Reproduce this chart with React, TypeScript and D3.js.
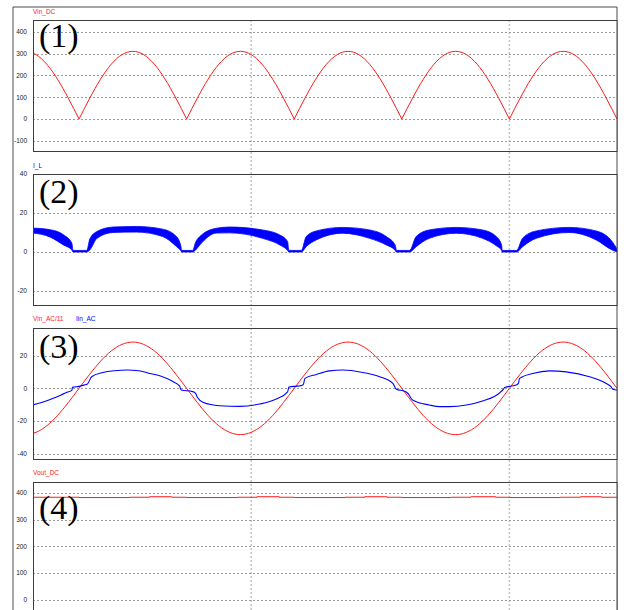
import React from 'react';
import * as d3 from 'd3';

// x axis = mains phase in degrees (60 Hz), 0 = first zero of Vin
const phaseSin = [
  -90, -72, -54, -36, -18, 0, 18, 36, 54, 72, 90, 108, 126, 144, 162, 180, 198, 216, 234, 252,
  270, 288, 306, 324, 342, 360, 378, 396, 414, 432, 450, 468, 486, 504, 522, 540, 558, 576, 594,
  612, 630, 648, 666, 684, 702, 720, 738, 756, 774, 792, 810, 828, 846, 864, 882, 900,
];
const vinDC = [
  311, 296, 252, 183, 96,
  0, 96, 183, 252, 296, 311, 296, 252, 183, 96,
  0, 96, 183, 252, 296, 311, 296, 252, 183, 96,
  0, 96, 183, 252, 296, 311, 296, 252, 183, 96,
  0, 96, 183, 252, 296, 311, 296, 252, 183, 96,
  0, 96, 183, 252, 296, 311, 296, 252, 183, 96,
  0,
];
const vinAC11 = [
  -28.3, -26.9, -22.9, -16.6, -8.7,
  0, 8.7, 16.6, 22.9, 26.9, 28.3, 26.9, 22.9, 16.6, 8.7,
  0, -8.7, -16.6, -22.9, -26.9, -28.3, -26.9, -22.9, -16.6, -8.7,
  0, 8.7, 16.6, 22.9, 26.9, 28.3, 26.9, 22.9, 16.6, 8.7,
  0, -8.7, -16.6, -22.9, -26.9, -28.3, -26.9, -22.9, -16.6, -8.7,
  0, 8.7, 16.6, 22.9, 26.9, 28.3, 26.9, 22.9, 16.6, 8.7,
  0,
];

const iinPhase = [
  -80, -60, -43, -30, -20, -12, -11, 0, 12, 14, 21, 40, 60, 80, 100, 118, 135, 157, 168, 171,
  190, 195, 198, 208, 235, 269, 302, 330, 349, 351, 370, 375, 378, 397, 419, 441, 475, 503, 525,
  531, 545, 550, 558, 586, 603, 620, 648, 675, 703, 710, 712, 731, 735, 737, 759, 787, 815, 854,
  882, 890, 893, 900,
];
const iinAC = [
  -10.4, -8.4, -6.1, -4.0, -2.4, -1.2, 0.6, 1.2, 2.4, 2.6, 7.1, 9.7, 10.8, 11.2, 10.8, 9.1, 7.7,
  4.2, 1.5, -1.0, -2.0, -3.0, -5.5, -8.7, -10.6, -11.0, -9.6, -6.5, -2.2, 0.8, 1.6, 2.2, 6.1, 8.5,
  10.7, 11.2, 9.7, 7.1, 3.0, -0.5, -1.8, -3.0, -7.1, -10.2, -11.2, -11.2, -10.2, -7.7, -3.0, -0.5,
  0.5, 2.0, 3.0, 6.1, 9.1, 10.7, 10.1, 7.1, 3.0, 1.0, -0.5, -1.0,
];

// inductor current: ripple band, upper and lower envelope
const ilPhase = [
  -80, -48, -26, -12, -10, 13, 18, 30, 57, 96, 140, 163, 170, 172, 190, 195, 202, 230, 252, 307,
  336, 349, 351, 372, 380, 397, 441, 486, 514, 529, 531, 553, 564, 586, 631, 675, 698, 707, 708,
  732, 742, 765, 820, 865, 892, 900,
];
const ilUpper = [
  12.3, 11.4, 8.8, 4.5, 0.8, 0.8, 6.6, 10.5, 12.8, 13.1, 11.7, 7.9, 3.5, 0.8, 0.8, 5.0, 7.9, 12.2,
  12.8, 11.3, 8.7, 5.3, 0.8, 0.8, 7.9, 10.8, 12.6, 11.3, 7.9, 3.5, 0.8, 0.8, 7.9, 11.3, 12.6, 11.3,
  7.9, 3.5, 0.8, 0.8, 7.0, 10.8, 12.6, 10.8, 5.3, 1.5,
];
const ilLower = [
  9.8, 7.6, 3.6, 1.0, 0, 0, 1.0, 7.0, 10.0, 10.2, 7.9, 2.8, 0.8, 0, 0, 1.0, 3.6, 9.7, 9.8, 7.0,
  3.6, 0.8, 0, 0, 2.7, 6.2, 9.6, 7.0, 3.6, 0.8, 0, 0, 2.7, 7.0, 9.6, 7.0, 3.2, 0.8, 0, 0, 2.7, 7.0,
  10.0, 6.2, 1.0, 0,
];

const voutPhase = [
  -80, 0, 85, 118, 155, 180, 265, 298, 335, 360, 445, 478, 515, 540, 623, 656, 697, 720, 805, 839,
  874, 900,
];
const voutDC = [
  383, 382, 383, 385, 383, 382, 383, 385, 383, 382, 383, 385, 383, 382, 383, 385, 383, 382, 383,
  385, 383, 383,
];

const vinTicks = [400, 300, 200, 100, 0, -100];
const ilTicks = [40, 20, 0, -20];
const acTicks = [20, 0, -20, -40];
const voutTicks = [400, 300, 200, 100, 0];
const gridPhase = [288, 720];

const RED = '#ff1a1a';
const BLUE = '#0000ff';
const tickFont = '"Liberation Sans", Arial, sans-serif';

const x = d3.scaleLinear().domain([-77, 900]).range([33, 617]);

const panels = [
  { id: 'p1', top: 20, bottom: 151, y: d3.scaleLinear().domain([-147, 455]).range([151, 20]), ticks: vinTicks, tag: '(1)', tagY: 47 },
  { id: 'p2', top: 174, bottom: 305, y: d3.scaleLinear().domain([-27.2, 40]).range([305, 174]), ticks: ilTicks, tag: '(2)', tagY: 203 },
  { id: 'p3', top: 328, bottom: 459, y: d3.scaleLinear().domain([-43.2, 36.9]).range([459, 328]), ticks: acTicks, tag: '(3)', tagY: 358 },
  { id: 'p4', top: 482, bottom: 640, y: d3.scaleLinear().domain([-149.1, 439.9]).range([640, 482]), ticks: voutTicks, tag: '(4)', tagY: 519 },
];

const zip = (xs: number[], ys: number[]) => xs.map((p, i) => [p, ys[i]] as [number, number]);

// split a rectified wave into arches at its zero points, so each arch is smooth but the cusps stay sharp
const arches = (pts: [number, number][]) => {
  const out: [number, number][][] = [];
  let cur: [number, number][] = [];
  pts.forEach(p => {
    cur.push(p);
    if (p[1] === 0) {
      if (cur.length > 1) out.push(cur);
      cur = [p];
    }
  });
  if (cur.length > 1) out.push(cur);
  return out;
};

export default function App() {
  const [p1, p2, p3, p4] = panels;

  const lineOf = (y: d3.ScaleLinear<number, number>, curve: d3.CurveFactory = d3.curveLinear) =>
    d3.line<[number, number]>().x(d => x(d[0])).y(d => y(d[1])).curve(curve);

  const vinDCPaths = arches(zip(phaseSin, vinDC)).map(a => lineOf(p1.y, d3.curveMonotoneX)(a) ?? '');
  const ilArea =
    d3.area<number>()
      .x((_, i) => x(ilPhase[i]))
      .y0((_, i) => p2.y(ilLower[i]))
      .y1((_, i) => p2.y(ilUpper[i]))
      .curve(d3.curveMonotoneX)(ilPhase) ?? '';
  const vinACPath = lineOf(p3.y, d3.curveNatural)(zip(phaseSin, vinAC11)) ?? '';
  const iinPath = lineOf(p3.y, d3.curveMonotoneX)(zip(iinPhase, iinAC)) ?? '';
  const voutPath = lineOf(p4.y, d3.curveStepAfter)(zip(voutPhase, voutDC)) ?? '';

  return (
    <svg width={624} height={610} style={{ position: 'absolute', left: 0, top: 0, background: '#fff' }}>
      <defs>
        {panels.map(p => (
          <clipPath id={`clip-${p.id}`} key={p.id}>
            <rect x={33} y={p.top} width={584} height={p.bottom - p.top} />
          </clipPath>
        ))}
      </defs>

      {/* outer frame */}
      <line x1={13} y1={7} x2={13} y2={610} stroke="#8a8a8a" strokeWidth={1.5} />
      <line x1={13} y1={7} x2={617} y2={7} stroke="#4a4a4a" strokeWidth={1} />
      <line x1={617} y1={7} x2={617} y2={610} stroke="#4a4a4a" strokeWidth={1} />

      {panels.map(p => (
        <rect key={p.id + 'bg'} x={33} y={p.top} width={584} height={p.bottom - p.top} fill="#fff" />
      ))}

      {/* vertical grid through all panels */}
      {gridPhase.map(g => (
        <line key={g} x1={x(g)} x2={x(g)} y1={20} y2={610} stroke="#c4c4c4" strokeWidth={1.5} strokeDasharray="2,2" />
      ))}

      {panels.map(p => (
        <g key={p.id}>
          {p.ticks.map(t => (
            <g key={t}>
              <line x1={33} x2={617} y1={Math.round(p.y(t)) + 0.5} y2={Math.round(p.y(t)) + 0.5} stroke="#9a9a9a" strokeWidth={1} strokeDasharray="2,2" />
              <text x={27} y={p.y(t)} dy="0.35em" textAnchor="end" fontSize={6.5} fontFamily={tickFont} fill="#222">
                {t}
              </text>
            </g>
          ))}
        </g>
      ))}

      <g clipPath="url(#clip-p1)">
        {vinDCPaths.map((d, i) => (
          <path key={i} d={d} fill="none" stroke={RED} strokeWidth={1} />
        ))}
      </g>
      <g clipPath="url(#clip-p2)">
        <path d={ilArea} fill={BLUE} stroke={BLUE} strokeWidth={0.8} />
      </g>
      <g clipPath="url(#clip-p3)">
        <path d={vinACPath} fill="none" stroke={RED} strokeWidth={1} />
        <path d={iinPath} fill="none" stroke={BLUE} strokeWidth={1.1} />
      </g>
      <g clipPath="url(#clip-p4)">
        <path d={voutPath} fill="none" stroke={RED} strokeWidth={1} />
      </g>

      {panels.map(p => (
        <rect key={p.id + 'frame'} x={33.5} y={p.top + 0.5} width={583.5} height={p.bottom - p.top} fill="none" stroke="#3c3c3c" strokeWidth={1} />
      ))}

      {/* series titles */}
      <g fontSize={6.5} fontFamily={tickFont}>
        <text x={33} y={14} fill={RED}>Vin_DC</text>
        <text x={33} y={168} fill={BLUE}>I_L</text>
        <text x={33} y={321} fill={RED}>Vin_AC/11</text>
        <text x={76} y={321} fill={BLUE}>Iin_AC</text>
        <text x={33} y={475} fill={RED}>Vout_DC</text>
      </g>

      {panels.map(p => (
        <text key={p.id + 'tag'} x={39} y={p.tagY} fontSize={34} fontFamily='"Liberation Serif", "Times New Roman", serif' fill="#000">
          {p.tag}
        </text>
      ))}
    </svg>
  );
}
